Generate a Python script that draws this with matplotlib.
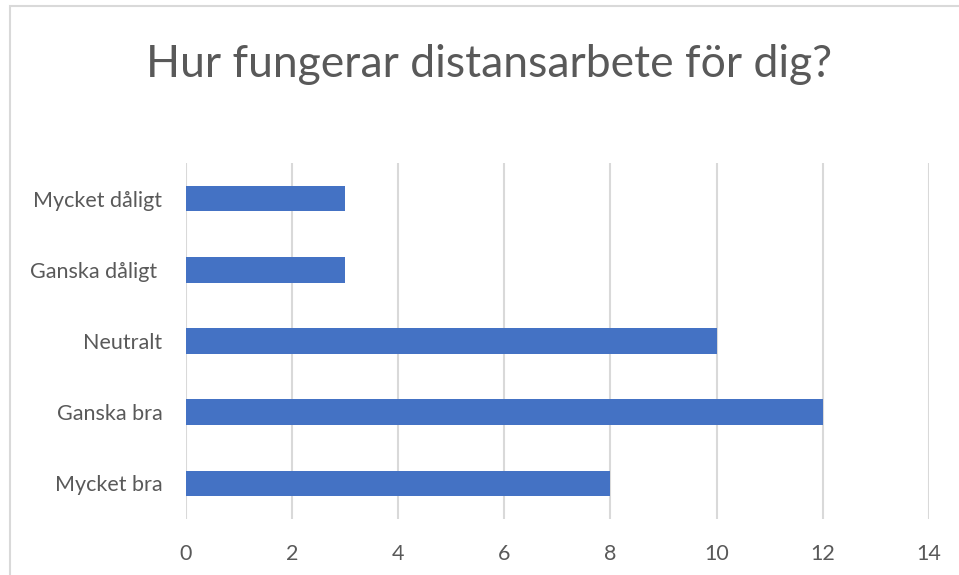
import matplotlib.pyplot as plt
from matplotlib.patches import Rectangle

# === DATA ===
categories = ["Mycket bra", "Ganska bra", "Neutralt", "Ganska dåligt ", "Mycket dåligt"]
values = [8, 12, 10, 3, 3]
x_ticks = [0, 2, 4, 6, 8, 10, 12, 14]
title = "Hur fungerar distansarbete för dig?"

BAR_COLOR = "#4472C4"
TEXT_COLOR = "#595959"
GRID_COLOR = "#D9D9D9"

plt.rcParams['font.family'] = ['Lato', 'DejaVu Sans']

fig = plt.figure(figsize=(9.59, 5.75), dpi=100)
ax = fig.add_axes([0.194, 0.0974, 0.7745, 0.6191])

ax.barh(range(len(categories)), values, height=0.36, color=BAR_COLOR, zorder=3)
ax.set_yticks(range(len(categories)))
ax.set_yticklabels(categories)
ax.set_ylim(-0.5, len(categories) - 0.5)
ax.set_xlim(x_ticks[0], x_ticks[-1])
ax.set_xticks(x_ticks)

ax.grid(axis='x', color=GRID_COLOR, linewidth=1.5, zorder=0)
ax.tick_params(axis='both', length=0, labelsize=15.5, labelcolor=TEXT_COLOR)
ax.tick_params(axis='y', pad=17)
ax.tick_params(axis='x', pad=18)
for s in ax.spines.values():
    s.set_visible(False)

fig.text(0.51, 0.888, title, ha='center', va='center', fontsize=32, color=TEXT_COLOR)

# chart border (only top and left are visible in the crop)
fig.patches.append(Rectangle((10 / 959, -0.1), 1.2, 1 - 6 / 575 + 0.1, transform=fig.transFigure,
                             fill=False, edgecolor=GRID_COLOR, linewidth=1.5))

fig.savefig("out.png", dpi=100)
